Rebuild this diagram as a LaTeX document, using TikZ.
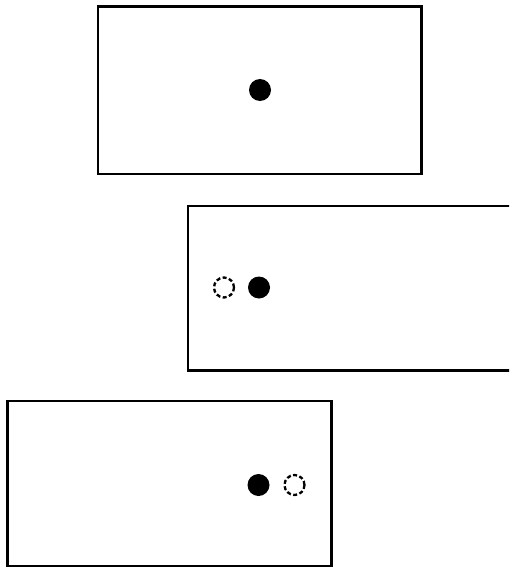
\documentclass[tikz,border=0pt]{standalone}
\begin{document}
\begin{tikzpicture}[x=1pt,y=-1pt,
  frame/.style={draw=black,line width=2.3pt},
  ball/.style={circle,fill=black,inner sep=0pt,minimum size=22pt},
  ghost/.style={circle,draw=black,dash pattern=on 4pt off 2.5pt,line width=2.3pt,inner sep=0pt,minimum size=20pt}]
\clip (0,0) rectangle (509,570);
\fill[white] (0,0) rectangle (509,570);
\draw[frame] (98,6.5) rectangle (421.5,174);
\draw[frame] (188,206) rectangle (515,370.5);
\draw[frame] (7.5,401) rectangle (331.5,566);
\node[ball] (b1) at (260,90) {};
\node[ball] (b2) at (259,287.5) {};
\node[ghost] (g2) at (224,287.5) {};
\node[ball] (b3) at (258.5,485) {};
\node[ghost] (g3) at (294.5,485) {};
\end{tikzpicture}
\end{document}
